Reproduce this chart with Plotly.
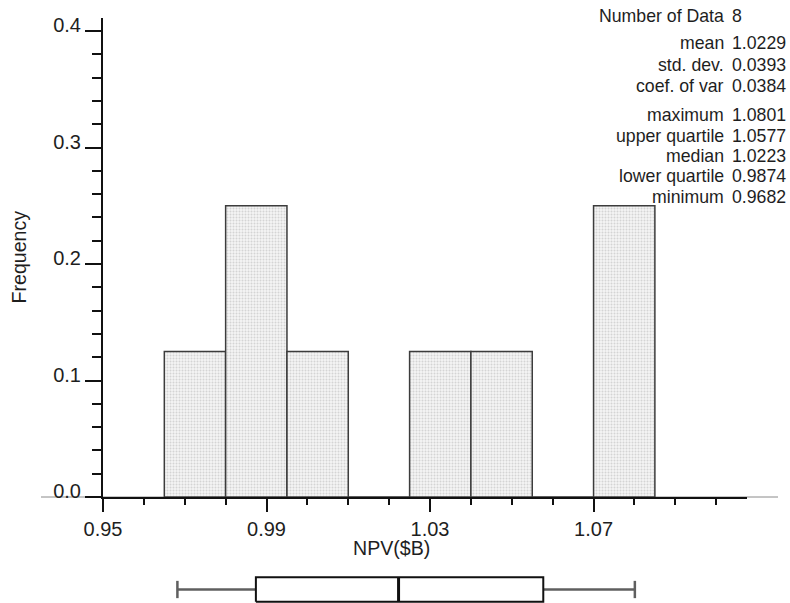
import plotly.graph_objects as go

# Histogram of NPV ($B), bin width 0.015
bin_lower = [0.965, 0.980, 0.995, 1.010, 1.025, 1.040, 1.055, 1.070]
bin_width = 0.015
bin_counts = [1, 2, 1, 0, 1, 1, 0, 2]
n_data = 8

# Summary statistics
stat_names = ["mean", "std. dev.", "coef. of var",
              "maximum", "upper quartile", "median", "lower quartile", "minimum"]
stat_values = [1.0229, 0.0393, 0.0384,
               1.0801, 1.0577, 1.0223, 0.9874, 0.9682]
stats = dict(zip(stat_names, stat_values))

x_tick_labels = ["0.95", "0.99", "1.03", "1.07"]
y_tick_labels = ["0.0", "0.1", "0.2", "0.3", "0.4"]

W, H = 790, 603
FONT = "Liberation Sans, Arial, Helvetica, sans-serif"
TXT = "#1e1e1e"


def py(px):
    """Pixel row -> paper y (no top/bottom margins)."""
    return 1 - px / H


freq = [c / n_data for c in bin_counts]
centers = [b + bin_width / 2 for b in bin_lower]

fig = go.Figure()

fig.add_trace(go.Bar(
    x=centers, y=freq, width=bin_width,
    marker=dict(
        color="#f1f1f1",
        line=dict(color="#3c3c3c", width=1.5),
        pattern=dict(shape=".", fgcolor="#b4b4b4", bgcolor="#f4f4f4",
                     size=3, solidity=0.35),
    ),
    hoverinfo="x+y", showlegend=False,
))

# Box plot underneath the histogram
q_min, q1, q_med, q3, q_max = (stats["minimum"], stats["lower quartile"],
                               stats["median"], stats["upper quartile"],
                               stats["maximum"])
box_h, cap_h = 0.9, 0.64
whisker = dict(color="#5f5f5f", width=2.5)
edge = dict(color="#111111", width=2)
for xs, ys, ln in [
    ([q_min, q1], [0, 0], whisker),
    ([q3, q_max], [0, 0], whisker),
    ([q_min, q_min], [-cap_h, cap_h], whisker),
    ([q_max, q_max], [-cap_h, cap_h], whisker),
    ([q1, q3, q3, q1, q1], [-box_h, -box_h, box_h, box_h, -box_h], edge),
    ([q_med, q_med], [-box_h, box_h], dict(color="#111111", width=3)),
]:
    fig.add_trace(go.Scatter(x=xs, y=ys, mode="lines", line=ln,
                             xaxis="x", yaxis="y2", showlegend=False,
                             hoverinfo="skip"))

# Axis scale: 0.95 at px 103, 4088 px per unit; 0.0 at px 497, 1165 px per unit
x_lo = 0.95
x_hi = x_lo + 644 / 4088
y_top = (497 - 18) / 1165

tick_font = dict(family=FONT, size=20, color=TXT)
fig.update_layout(
    width=W, height=H,
    margin=dict(l=103, r=43, t=0, b=0, autoexpand=False),
    paper_bgcolor="white", plot_bgcolor="white",
    showlegend=False,
    xaxis=dict(
        range=[x_lo, x_hi], domain=[0, 1], anchor="y", automargin=False,
        showgrid=False, zeroline=False,
        showline=True, linecolor="#111111", linewidth=2,
        tickmode="array", tickvals=[float(t) for t in x_tick_labels],
        ticktext=x_tick_labels,
        ticks="outside", ticklen=13, tickwidth=2, tickcolor="#111111",
        minor=dict(tickmode="linear", tick0=0.95, dtick=0.01, ticks="outside",
                   ticklen=6, tickwidth=2, tickcolor="#111111"),
        tickfont=tick_font,
    ),
    yaxis=dict(
        range=[0, y_top], domain=[py(497), py(18)], anchor="x",
        automargin=False,
        showgrid=False, zeroline=False,
        showline=True, linecolor="#111111", linewidth=2,
        tickmode="array", tickvals=[float(t) for t in y_tick_labels],
        ticktext=y_tick_labels, ticklabelshift=-6,
        ticks="outside", ticklen=16, tickwidth=2, tickcolor="#111111",
        minor=dict(tickmode="linear", tick0=0, dtick=0.02, ticks="outside",
                   ticklen=9, tickwidth=2, tickcolor="#111111"),
        tickfont=tick_font,
    ),
    yaxis2=dict(
        range=[-1, 1], domain=[0, 27 / H], anchor="x", automargin=False,
        visible=False, showgrid=False, zeroline=False,
    ),
)

# Thin baseline running past both ends of the x axis
fig.add_shape(type="line", xref="paper", yref="paper",
              x0=(41 - 103) / 644, x1=(778 - 103) / 644,
              y0=py(497), y1=py(497),
              line=dict(color="#8a8a8a", width=1), layer="below")

# Axis titles
fig.add_annotation(text="NPV($B)", xref="paper", yref="paper",
                   x=(391 - 103) / 644, y=py(548), xanchor="center",
                   yanchor="middle", showarrow=False,
                   font=dict(family=FONT, size=19.6, color=TXT))
fig.add_annotation(text="Frequency", xref="paper", yref="paper",
                   x=(18.5 - 103) / 644, y=py(257), xanchor="center",
                   yanchor="middle", textangle=-90, showarrow=False,
                   font=dict(family=FONT, size=19.6, color=TXT))

# Statistics panel
rows = [("Number of Data", f"{n_data}")] + \
       [(name, f"{val:.4f}") for name, val in zip(stat_names, stat_values)]
row_px = [16.3, 43.3, 65, 86, 115, 135.5, 156, 176.5, 197]
stat_font = dict(family=FONT, size=17.7, color=TXT)
for (label, value), rp in zip(rows, row_px):
    fig.add_annotation(text=label, xref="paper", yref="paper",
                       x=(725.5 - 103) / 644, y=py(rp), xanchor="right",
                       yanchor="middle", showarrow=False, font=stat_font)
    fig.add_annotation(text=value, xref="paper", yref="paper",
                       x=(730 - 103) / 644, y=py(rp), xanchor="left",
                       yanchor="middle", showarrow=False, font=stat_font)

fig.write_html("out.html")
